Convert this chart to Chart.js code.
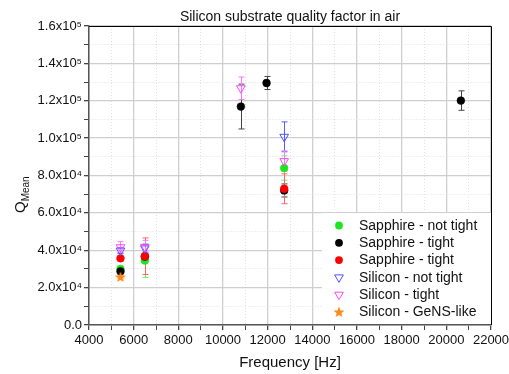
<!DOCTYPE html>
<html>
<head>
<meta charset="utf-8">
<script src="https://cdn.jsdelivr.net/npm/chart.js@4.4.1/dist/chart.umd.min.js"></script>
<style>
  body { margin: 0; background: #fff; }
  #wrap { width: 509px; height: 374px; position: relative; }
</style>
</head>
<body>
<div id="wrap"><canvas id="chart-canvas"></canvas></div>
<script>
// data
let seriesNames = ["Sapphire - not tight", "Sapphire - tight", "Sapphire - tight",
  "Silicon - not tight", "Silicon - tight", "Silicon - GeNS-like"];

let freqSapphireNT = [5410, 6500, 12740];
let qSapphireNT = [30000, 34500, 84000];
let errSapphireNT = [1000, 9000, 6500];

let freqSapphireT = [5410, 6500, 10800, 11950, 12740, 20650];
let qSapphireT = [28700, 36600, 116900, 129500, 72000, 120100];
let errSapphireT = [1000, 1500, 12000, 3500, 3500, 5200];

let freqSapphireT2 = [5410, 6500, 12740];
let qSapphireT2 = [35700, 36800, 72900];
let errSapphireT2 = [800, 9800, 8000];

let freqSiliconNT = [5410, 6500, 12740];
let qSiliconNT = [39800, 41000, 100700];
let errSiliconNT = [1500, 2000, 8000];

let freqSiliconT = [5410, 6500, 10800, 12740];
let qSiliconT = [41600, 41800, 126700, 87700];
let errSiliconT = [3000, 3500, 6000, 5500];

let freqGeNS = [5410];
let qGeNS = [25700];
let errGeNS = [500];

let xTickLabels = ["4000", "6000", "8000", "10000", "12000", "14000", "16000", "18000", "20000", "22000"];
let yTickLabels = ["0.0", "2.0x10\u2074", "4.0x10\u2074", "6.0x10\u2074", "8.0x10\u2074",
  "1.0x10\u2075", "1.2x10\u2075", "1.4x10\u2075", "1.6x10\u2075"];

const FONT = "'Liberation Sans', Arial, sans-serif";

// filled star marker
let starImg = document.createElement("canvas");
starImg.width = 12;
starImg.height = 12;
(function () {
  let c = starImg.getContext("2d");
  c.fillStyle = "#ff8a1c";
  c.beginPath();
  for (let k = 0; k < 10; k++) {
    let r = k % 2 === 0 ? 5.8 : 2.5;
    let a = -Math.PI / 2 + k * Math.PI / 5;
    let px = 6 + r * Math.cos(a), py = 6.4 + r * Math.sin(a);
    if (k === 0) c.moveTo(px, py); else c.lineTo(px, py);
  }
  c.closePath();
  c.fill();
})();

function makeSet(i, xs, ys, errs, style) {
  return {
    label: seriesNames[i],
    data: xs.map(function (x, j) { return { x: x, y: ys[j] }; }),
    errors: errs,
    errColor: style.errColor,
    pointStyle: style.pointStyle,
    pointRotation: style.rotation || 0,
    pointRadius: style.radius,
    pointHoverRadius: style.radius,
    pointBorderWidth: style.borderWidth,
    borderColor: style.border,
    backgroundColor: style.fill,
    order: 10 - i,
  };
}

let datasets = [
  makeSet(0, freqSapphireNT, qSapphireNT, errSapphireNT,
    { pointStyle: "circle", radius: 3.9, borderWidth: 0.5, border: "#1ee61e", fill: "#1ee61e", errColor: "#66ee66" }),
  makeSet(1, freqSapphireT, qSapphireT, errSapphireT,
    { pointStyle: "circle", radius: 3.9, borderWidth: 0.5, border: "#000", fill: "#000", errColor: "#444" }),
  makeSet(2, freqSapphireT2, qSapphireT2, errSapphireT2,
    { pointStyle: "circle", radius: 3.9, borderWidth: 0.5, border: "#ff0000", fill: "#ff0000", errColor: "#ff6464" }),
  makeSet(3, freqSiliconNT, qSiliconNT, errSiliconNT,
    { pointStyle: "triangle", rotation: 180, radius: 5, borderWidth: 1, border: "#5050ff", fill: "rgba(0,0,0,0)", errColor: "#5a5aff" }),
  makeSet(4, freqSiliconT, qSiliconT, errSiliconT,
    { pointStyle: "triangle", rotation: 180, radius: 5, borderWidth: 1, border: "#ff44ff", fill: "rgba(0,0,0,0)", errColor: "#ff77ff" }),
  makeSet(5, freqGeNS, qGeNS, errGeNS,
    { pointStyle: starImg, radius: 6, borderWidth: 0, border: "#ff8a1c", fill: "#ff8a1c", errColor: "#ffaa55" }),
];

function drawMarker(ctx, ds, x, y) {
  ctx.save();
  ctx.lineWidth = ds.pointBorderWidth;
  ctx.strokeStyle = ds.borderColor;
  ctx.fillStyle = ds.backgroundColor;
  if (ds.pointStyle === "circle") {
    ctx.beginPath();
    ctx.arc(x, y, ds.pointRadius, 0, Math.PI * 2);
    ctx.fill();
  } else if (ds.pointStyle === "triangle") {
    let r = ds.pointRadius;
    ctx.beginPath();
    ctx.moveTo(x, y + r);
    ctx.lineTo(x - r * 0.866, y - r * 0.5);
    ctx.lineTo(x + r * 0.866, y - r * 0.5);
    ctx.closePath();
    ctx.stroke();
  } else {
    ctx.drawImage(ds.pointStyle, x - 6, y - 6);
  }
  ctx.restore();
}

let extras = {
  id: "extras",
  beforeDatasetsDraw(chart) {
    let ctx = chart.ctx;
    let xs = chart.scales.x, ys = chart.scales.y;
    ctx.save();
    chart.data.datasets.forEach(function (ds) {
      ctx.strokeStyle = ds.errColor;
      ctx.lineWidth = 1;
      ds.data.forEach(function (p, j) {
        let e = ds.errors[j];
        let px = Math.round(xs.getPixelForValue(p.x)) + 0.5;
        let top = ys.getPixelForValue(p.y + e);
        let bot = ys.getPixelForValue(p.y - e);
        ctx.beginPath();
        ctx.moveTo(px, top);
        ctx.lineTo(px, bot);
        ctx.moveTo(px - 3, top);
        ctx.lineTo(px + 3, top);
        ctx.moveTo(px - 3, bot);
        ctx.lineTo(px + 3, bot);
        ctx.stroke();
      });
    });
    ctx.restore();
  },
  afterDraw(chart) {
    let ctx = chart.ctx;
    let a = chart.chartArea;
    ctx.save();
    // top and right frame
    ctx.strokeStyle = "#000";
    ctx.lineWidth = 1;
    ctx.beginPath();
    ctx.moveTo(a.left, a.top + 0.5);
    ctx.lineTo(a.right + 0.5, a.top + 0.5);
    ctx.lineTo(a.right + 0.5, a.bottom);
    ctx.stroke();

    // legend
    ctx.fillStyle = "#fff";
    ctx.fillRect(322, 213, a.right - 322, a.bottom - 214);
    ctx.font = "14px " + FONT;
    ctx.textBaseline = "middle";
    chart.data.datasets.forEach(function (ds, i) {
      let y = 225.5 + i * 17.3;
      drawMarker(ctx, ds, 339, y);
      ctx.fillStyle = "#111";
      ctx.fillText(ds.label, 359, y + 0.5);
    });

    // title
    ctx.fillStyle = "#111";
    ctx.textAlign = "center";
    ctx.textBaseline = "alphabetic";
    ctx.font = "14px " + FONT;
    ctx.fillText("Silicon substrate quality factor in air", (a.left + a.right) / 2, 21);

    // x title
    ctx.font = "15px " + FONT;
    ctx.fillText("Frequency [Hz]", (a.left + a.right) / 2, 367);

    // y title with subscript
    ctx.translate(25, 213);
    ctx.rotate(-Math.PI / 2);
    ctx.textAlign = "left";
    ctx.font = "15px " + FONT;
    ctx.fillText("Q", 0, 0);
    let w = ctx.measureText("Q").width;
    ctx.font = "10px " + FONT;
    ctx.fillText("Mean", w, 4);
    ctx.restore();
  },
};

function gridColor(c) {
  return c.tick && c.tick.major ? "#cfcfcf" : "#e0e0e0";
}

let chart1 = new Chart(document.getElementById("chart-canvas"), {
  type: "scatter",
  data: { datasets: datasets },
  options: {
    responsive: true,
    maintainAspectRatio: false,
    animation: false,
    layout: { padding: { top: 26, right: 18, left: 0, bottom: 0 } },
    plugins: { legend: { display: false }, tooltip: { enabled: false }, title: { display: false } },
    scales: {
      x: {
        type: "linear",
        min: 4000,
        max: 22000,
        afterFit(scale) { scale.height = 49; scale.paddingLeft = 0; scale.paddingRight = 0; },
        afterBuildTicks(scale) {
          scale.ticks.forEach(function (t) { t.major = xTickLabels.indexOf(String(t.value)) >= 0; });
        },
        ticks: {
          stepSize: 1000,
          autoSkip: false,
          maxRotation: 0,
          padding: 3,
          color: "#111",
          font: { family: FONT, size: 13 },
          callback: function (v) {
            return xTickLabels.indexOf(String(v)) >= 0 ? String(v) : "";
          },
        },
        grid: {
          color: gridColor,
          lineWidth: function (c) { return c.tick && c.tick.major ? 1.3 : 1; },
          tickColor: "#444",
          tickLength: 5,
        },
        border: {
          color: "#555",
          width: 1.5,
          dash: function (c) { return c.tick && !c.tick.major ? [1, 2] : []; },
        },
      },
      y: {
        min: 0,
        max: 160000,
        afterFit(scale) { scale.width = 89; scale.paddingTop = 0; scale.paddingBottom = 0; },
        afterBuildTicks(scale) {
          scale.ticks.forEach(function (t) { t.major = t.value % 20000 === 0; });
        },
        ticks: {
          stepSize: 10000,
          autoSkip: false,
          padding: 2,
          color: "#111",
          font: { family: FONT, size: 13 },
          callback: function (v) {
            return v % 20000 === 0 ? yTickLabels[v / 20000] : "";
          },
        },
        grid: {
          color: gridColor,
          lineWidth: function (c) { return c.tick && c.tick.major ? 1.3 : 1; },
          tickColor: "#444",
          tickLength: 5,
        },
        border: {
          color: "#555",
          width: 1.5,
          dash: function (c) { return c.tick && !c.tick.major ? [1, 2] : []; },
        },
      },
    },
  },
  plugins: [extras],
});
</script>
</body>
</html>
